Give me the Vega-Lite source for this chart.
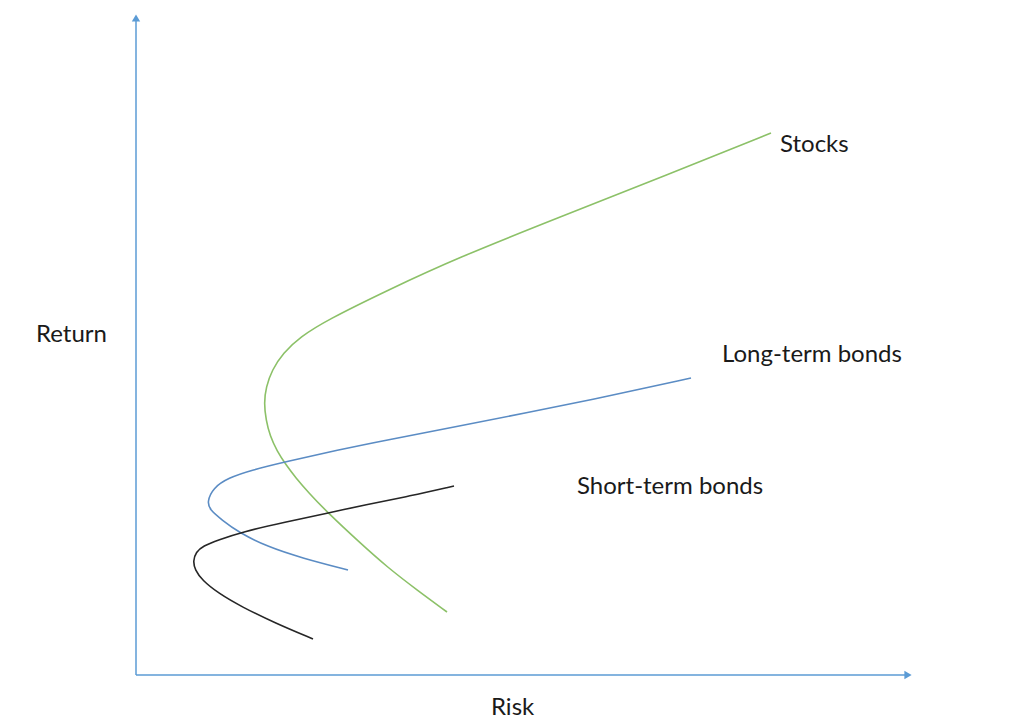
{
  "$schema": "https://vega.github.io/schema/vega-lite/v6.json",
  "width": 1012,
  "height": 720,
  "padding": 0,
  "autosize": {"type": "fit", "contains": "padding"},
  "background": "white",
  "config": {"view": {"stroke": null}},
  "datasets": {
    "curves": [
      {"series": "Stocks", "i": 0, "risk": 311, "ret": 63},
      {"series": "Stocks", "i": 1, "risk": 281, "ret": 85},
      {"series": "Stocks", "i": 2, "risk": 251, "ret": 108},
      {"series": "Stocks", "i": 3, "risk": 222, "ret": 134},
      {"series": "Stocks", "i": 4, "risk": 192, "ret": 162},
      {"series": "Stocks", "i": 5, "risk": 172, "ret": 183},
      {"series": "Stocks", "i": 6, "risk": 160, "ret": 197},
      {"series": "Stocks", "i": 7, "risk": 150, "ret": 210},
      {"series": "Stocks", "i": 8, "risk": 141, "ret": 224},
      {"series": "Stocks", "i": 9, "risk": 134, "ret": 239},
      {"series": "Stocks", "i": 10, "risk": 130, "ret": 255},
      {"series": "Stocks", "i": 11, "risk": 128, "ret": 272},
      {"series": "Stocks", "i": 12, "risk": 130, "ret": 288},
      {"series": "Stocks", "i": 13, "risk": 136, "ret": 305},
      {"series": "Stocks", "i": 14, "risk": 147, "ret": 322},
      {"series": "Stocks", "i": 15, "risk": 164, "ret": 338},
      {"series": "Stocks", "i": 16, "risk": 191, "ret": 355},
      {"series": "Stocks", "i": 17, "risk": 252, "ret": 385},
      {"series": "Stocks", "i": 18, "risk": 321, "ret": 417},
      {"series": "Stocks", "i": 19, "risk": 424, "ret": 458},
      {"series": "Stocks", "i": 20, "risk": 528, "ret": 499},
      {"series": "Stocks", "i": 21, "risk": 635, "ret": 542},
      {"series": "Long-term bonds", "i": 0, "risk": 212, "ret": 105},
      {"series": "Long-term bonds", "i": 1, "risk": 166, "ret": 117},
      {"series": "Long-term bonds", "i": 2, "risk": 132, "ret": 128},
      {"series": "Long-term bonds", "i": 3, "risk": 102, "ret": 143},
      {"series": "Long-term bonds", "i": 4, "risk": 86, "ret": 155},
      {"series": "Long-term bonds", "i": 5, "risk": 74, "ret": 165},
      {"series": "Long-term bonds", "i": 6, "risk": 71, "ret": 173},
      {"series": "Long-term bonds", "i": 7, "risk": 77, "ret": 187},
      {"series": "Long-term bonds", "i": 8, "risk": 92, "ret": 197},
      {"series": "Long-term bonds", "i": 9, "risk": 116, "ret": 205},
      {"series": "Long-term bonds", "i": 10, "risk": 149, "ret": 213},
      {"series": "Long-term bonds", "i": 11, "risk": 202, "ret": 225},
      {"series": "Long-term bonds", "i": 12, "risk": 251, "ret": 235},
      {"series": "Long-term bonds", "i": 13, "risk": 319, "ret": 248},
      {"series": "Long-term bonds", "i": 14, "risk": 389, "ret": 262},
      {"series": "Long-term bonds", "i": 15, "risk": 474, "ret": 279},
      {"series": "Long-term bonds", "i": 16, "risk": 555, "ret": 297},
      {"series": "Short-term bonds", "i": 0, "risk": 177, "ret": 36},
      {"series": "Short-term bonds", "i": 1, "risk": 139, "ret": 52},
      {"series": "Short-term bonds", "i": 2, "risk": 106, "ret": 68},
      {"series": "Short-term bonds", "i": 3, "risk": 82, "ret": 82},
      {"series": "Short-term bonds", "i": 4, "risk": 66, "ret": 95},
      {"series": "Short-term bonds", "i": 5, "risk": 59, "ret": 105},
      {"series": "Short-term bonds", "i": 6, "risk": 57, "ret": 114},
      {"series": "Short-term bonds", "i": 7, "risk": 60, "ret": 123},
      {"series": "Short-term bonds", "i": 8, "risk": 67, "ret": 129},
      {"series": "Short-term bonds", "i": 9, "risk": 82, "ret": 135},
      {"series": "Short-term bonds", "i": 10, "risk": 106, "ret": 143},
      {"series": "Short-term bonds", "i": 11, "risk": 149, "ret": 153},
      {"series": "Short-term bonds", "i": 12, "risk": 192, "ret": 162},
      {"series": "Short-term bonds", "i": 13, "risk": 229, "ret": 170},
      {"series": "Short-term bonds", "i": 14, "risk": 274, "ret": 179},
      {"series": "Short-term bonds", "i": 15, "risk": 318, "ret": 189}
    ],
    "labels": [
      {"text": "Stocks", "risk": 644, "ret": 530},
      {"text": "Long-term bonds", "risk": 586, "ret": 320},
      {"text": "Short-term bonds", "risk": 441, "ret": 188},
      {"text": "Return", "risk": -100, "ret": 340},
      {"text": "Risk", "risk": 355, "ret": -33}
    ],
    "axes": [
      {"axis": "y", "risk": 0, "ret": 0, "risk2": 0, "ret2": 655},
      {"axis": "x", "risk": 0, "ret": 0, "risk2": 770, "ret2": 0}
    ],
    "arrows": [
      {"axis": "y", "risk": 0, "ret": 657, "shape": "triangle-up"},
      {"axis": "x", "risk": 772, "ret": 0, "shape": "triangle-right"}
    ]
  },
  "encoding": {
    "x": {"field": "risk", "type": "quantitative", "scale": {"domain": [-136, 876], "nice": false, "zero": false}, "axis": null},
    "y": {"field": "ret", "type": "quantitative", "scale": {"domain": [-45, 675], "nice": false, "zero": false}, "axis": null}
  },
  "layer": [
    {
      "data": {"name": "axes"},
      "mark": {"type": "rule", "color": "#5B9BD5", "strokeWidth": 1.5},
      "encoding": {
        "x2": {"field": "risk2"},
        "y2": {"field": "ret2"}
      }
    },
    {
      "data": {"name": "arrows"},
      "mark": {"type": "point", "filled": true, "color": "#5B9BD5", "size": 70, "opacity": 1},
      "encoding": {
        "shape": {"field": "shape", "type": "nominal", "scale": null}
      }
    },
    {
      "data": {"name": "curves"},
      "mark": {"type": "line", "interpolate": "basis", "strokeWidth": 1.6},
      "encoding": {
        "detail": {"field": "series"},
        "order": {"field": "i", "type": "quantitative"},
        "color": {
          "field": "series",
          "type": "nominal",
          "scale": {"domain": ["Stocks", "Long-term bonds", "Short-term bonds"], "range": ["#8CC168", "#5B8CC4", "#262626"]},
          "legend": null
        }
      }
    },
    {
      "data": {"name": "labels"},
      "mark": {"type": "text", "align": "left", "baseline": "middle", "font": "Lato", "fontSize": 24, "color": "#1a1a1a"},
      "encoding": {"text": {"field": "text"}}
    }
  ]
}
